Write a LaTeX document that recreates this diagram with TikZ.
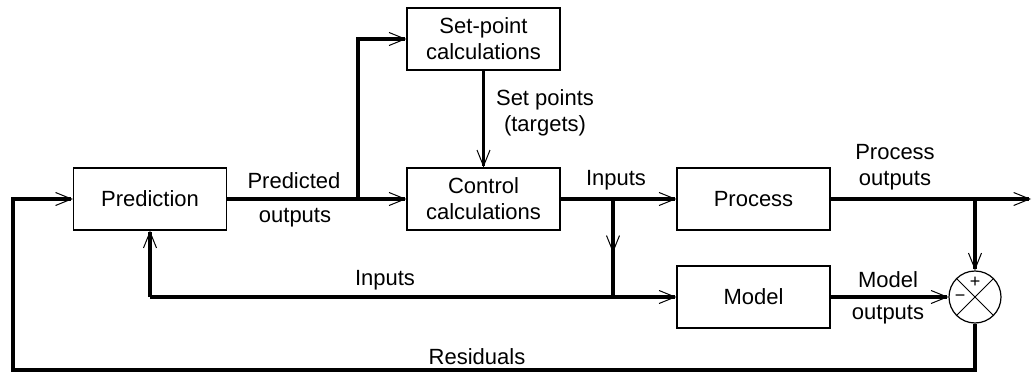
\documentclass[tikz,border=0pt]{standalone}
\usepackage{fontspec}
\setmainfont{Liberation Sans}
\usetikzlibrary{arrows.meta,decorations.markings}
\begin{document}
\begin{tikzpicture}[x=1pt,y=-1pt,
  every node/.style={font=\fontsize{22}{26}\selectfont, inner sep=0pt},
  block/.style={draw, line width=1.2pt, minimum width=153pt, minimum height=62pt, align=center},
  flow/.style={line width=3.3pt},
  tip/.style={-{Straight Barb[length=16pt,width=13pt,line width=1pt]}},
  midtip/.style={postaction={decorate}, decoration={markings,
     mark=at position #1 with {\arrow{Straight Barb[length=16pt,width=13pt,line width=1pt]}}}},
  lbl/.style={align=center}
]
\useasboundingbox (0,0) rectangle (1033,377);

% blocks
\node[block] (pred)  at (150,199)   {Prediction};
\node[block] (setp)  at (483.5,39)  {Set-point\\calculations};
\node[block] (ctrl)  at (483.5,199) {Control\\calculations};
\node[block] (proc)  at (753.5,199) {Process};
\node[block] (model) at (753.5,297) {Model};
\node[draw, circle, line width=1.2pt, minimum size=52pt] (sum) at (975,297) {};
\draw[line width=1pt] (sum.north west) -- (sum.south east) (sum.north east) -- (sum.south west);
\node[font=\fontsize{18}{20}\selectfont] at (975,282) {+};
\node[font=\fontsize{18}{20}\selectfont] at (960,298) {\textminus};

% junctions and corners
\coordinate (j1) at (358,199);
\coordinate (j2) at (613,199);
\coordinate (j3) at (613,297);
\coordinate (j4) at (975,199);
\coordinate (out) at (1031,199);
\coordinate (r1) at (975,370);
\coordinate (r2) at (13,370);
\coordinate (r3) at (13,199);

% signal paths
\draw[flow,tip] (pred.east) -- (ctrl.west);
\draw[flow,tip] (j1) |- (setp.west);
\draw[flow,tip] (setp.south) -- (ctrl.north);
\draw[flow,tip] (ctrl.east) -- (proc.west);
\draw[flow,midtip=0.55] (j2) -- (j3);
\draw[flow,tip] (pred.south |- j3) -- (model.west);
\draw[flow,tip] (pred.south |- j3) -- (pred.south);
\draw[flow,tip] (proc.east) -- (out);
\draw[flow,tip] (j4) -- (sum.north);
\draw[flow,tip] (model.east) -- (sum.west);
\draw[flow,tip] (sum.south) -- (r1) -- (r2) -- (r3) -- (pred.west);

% labels
\node[lbl] at (294,181) {Predicted};
\node[lbl] at (295,218) {outputs};
\node[lbl] at (545,113) {Set points\\(targets)};
\node[lbl] at (616,180) {Inputs};
\node[lbl] at (895,167) {Process\\outputs};
\node[lbl] at (888,280) {Model};
\node[lbl] at (888,315) {outputs};
\node[lbl] at (385,280) {Inputs};
\node[lbl] at (477,357) {Residuals};
\end{tikzpicture}
\end{document}
